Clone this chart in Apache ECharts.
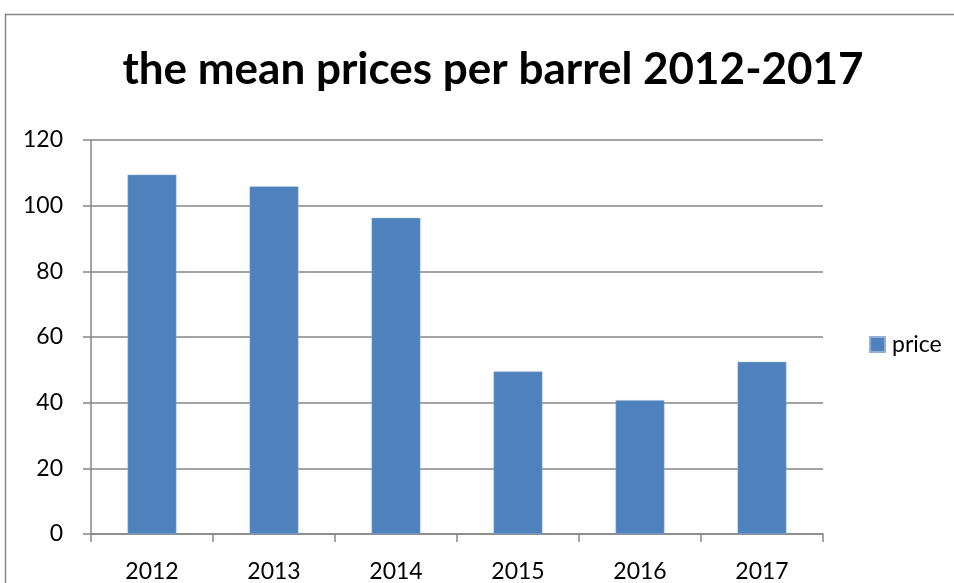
<!DOCTYPE html>
<html>
<head>
<meta charset="utf-8">
<script src="https://cdn.jsdelivr.net/npm/echarts@6/dist/echarts.min.js"></script>
<style>
  html, body { margin: 0; padding: 0; background: #fff; }
  #chart { width: 954px; height: 583px; }
</style>
</head>
<body>
<div id="chart"></div>
<script>
// Mean price per barrel, by year
const years = ['2012', '2013', '2014', '2015', '2016', '2017'];
const price = [109.45, 105.87, 96.29, 49.49, 40.76, 52.43];
const yTicks = { min: 0, max: 120, interval: 20 };

const font = 'Lato, "Open Sans", sans-serif';
const gray = '#868686';

const chart = echarts.init(document.getElementById('chart'), null, { renderer: 'canvas' });
chart.setOption({
  backgroundColor: '#ffffff',
  animation: false,
  graphic: [{
    type: 'rect',
    silent: true,
    shape: { x: 5.5, y: 14.5, width: 1000, height: 700 },
    style: { fill: 'none', stroke: gray, lineWidth: 1.5 }
  }],
  title: {
    text: 'the mean prices per barrel 2012-2017',
    left: 488,
    textAlign: 'center',
    top: 43,
    textStyle: { fontFamily: font, fontWeight: 'bold', fontSize: 44, color: '#000' }
  },
  legend: {
    data: ['price'],
    left: 864,
    top: 328,
    itemWidth: 15,
    itemHeight: 15,
    icon: 'rect',
    textStyle: { fontFamily: font, fontSize: 23, color: '#000', padding: [0, 0, 0, 2] }
  },
  grid: { left: 91, right: 131, top: 140, bottom: 45, containLabel: false },
  xAxis: {
    type: 'category',
    data: years,
    boundaryGap: true,
    axisLine: { lineStyle: { color: gray, width: 1.5 } },
    axisTick: { show: true, length: 8, lineStyle: { color: gray, width: 1.5 } },
    axisLabel: { fontFamily: font, fontSize: 23, color: '#000', margin: 26 }
  },
  yAxis: {
    type: 'value',
    min: yTicks.min,
    max: yTicks.max,
    interval: yTicks.interval,
    axisLine: { show: true, lineStyle: { color: gray, width: 1.5 } },
    axisTick: { show: true, length: 8, lineStyle: { color: gray, width: 1.5 } },
    axisLabel: { fontFamily: font, fontSize: 23, color: '#000', margin: 28 },
    splitLine: { show: true, lineStyle: { color: gray, width: 1.5 } }
  },
  series: [{
    name: 'price',
    type: 'bar',
    data: price,
    barWidth: '40%',
    itemStyle: { color: '#4F81BD', borderColor: '#8FB0D8', borderWidth: 0.5 }
  }]
});
</script>
</body>
</html>
